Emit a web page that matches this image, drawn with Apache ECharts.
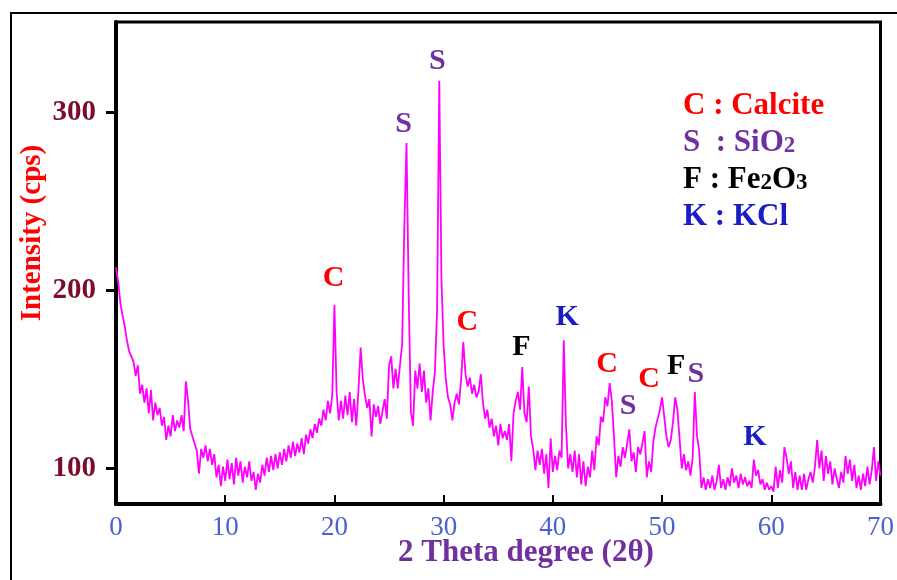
<!DOCTYPE html>
<html><head><meta charset="utf-8">
<script src="https://cdn.jsdelivr.net/npm/echarts@6/dist/echarts.min.js"></script>
<style>html,body{margin:0;padding:0;background:#fff}#c{width:897px;height:580px}</style>
</head><body><div id="c"></div>
<script>
// XRD scan: 2θ from 0 to 70 in 0.2° steps
const scanStart = 0;
const scanStep = 0.2;
const intensity = [
  213,205,193,186,180,172,166,163,160,152,
  158,142,147,137,145,131,144,127,137,130,
  134,124,129,116,124,118,130,121,127,123,
  130,121,149,138,122,118,114,110,97,111,
  106,113,104,111,102,108,95,102,90,101,
  93,105,94,103,91,106,96,104,92,101,
  95,104,93,98,88,97,92,102,96,106,
  98,107,99,108,100,109,102,111,104,113,
  106,115,107,114,109,117,108,119,114,122,
  117,125,120,128,124,133,127,138,131,141,
  192,143,127,138,128,141,130,143,126,139,
  124,144,168,150,141,134,139,118,136,129,
  135,125,132,139,128,158,163,145,156,145,
  158,170,236,283,197,132,124,155,145,159,
  143,155,137,145,127,143,154,189,318,206,
  169,150,140,136,127,137,142,136,150,171,
  153,146,151,142,147,140,143,153,137,128,
  133,123,128,118,124,113,125,117,121,116,
  125,104,131,138,143,133,157,131,126,146,
  118,111,99,110,102,111,97,108,89,117,
  98,107,99,110,106,172,124,100,108,98,
  110,95,108,91,104,90,101,95,110,99,
  118,113,129,126,140,135,148,138,118,95,
  107,101,112,106,114,122,104,109,98,112,
  108,114,121,95,104,98,115,123,128,133,
  140,129,118,112,116,126,140,133,117,100,
  108,99,104,96,106,143,118,110,89,95,
  88,94,89,96,88,93,102,89,94,88,
  95,90,100,92,96,89,97,91,95,90,
  93,89,105,96,99,91,94,88,92,88,
  90,87,101,89,99,92,112,106,97,104,
  89,98,88,96,88,97,88,94,98,92,
  101,116,100,110,93,107,97,104,91,100,
  94,89,98,92,107,97,105,93,102,89,
  96,88,97,90,101,91,99,112,93,104,
  96
];

const xMin = 0, xMax = 70, xInterval = 10;
const yMin = 80, yMax = 351;
const yTickValues = [100, 200, 300];

// peak annotations (phase letter, 2θ, intensity where the letter sits)
const peakPhase = ['C','S','S','C','F','K','C','S','C','F','S','K'];
const peakTheta = [19.93,26.33,29.43,32.18,37.11,41.32,44.97,46.89,48.81,51.28,53.1,58.5];
const peakLabelY = [206.7,293.3,328.7,182,168,184.8,158.4,134.8,150,157.3,152.8,117.4];

const phaseColors = { C:'#ff0000', S:'#7030a0', F:'#000000', K:'#1c1cc4' };

// phase legend
const legendKeys = ['C','S','F','K'];
const legendNames = [['C : Calcite'], ['S  : SiO','2',''], ['F : Fe','2','O','3'], ['K : KCl']];

const linePts = intensity.map((v, i) => [+(scanStart + i * scanStep).toFixed(2), v]);
const peakPts = peakPhase.map((p, i) => ({
  value: [peakTheta[i], peakLabelY[i]], name: p,
  label: { color: phaseColors[p] }
}));

const serif = 'Liberation Serif';
function legendText(parts) {
  let s = '';
  parts.forEach((t, i) => { if (t) s += (i % 2 === 0 ? '{m|' : '{s|') + t + '}'; });
  return s;
}
const legendGraphics = legendKeys.map((k, i) => ({
  type: 'text', x: 683, y: 104 + i * 37,
  style: {
    text: legendText(legendNames[i]),
    align: 'left', verticalAlign: 'middle',
    rich: {
      m: { fontFamily: serif, fontWeight: 'bold', fontSize: 31, fill: phaseColors[k], color: phaseColors[k], verticalAlign: 'bottom', lineHeight: 34 },
      s: { fontFamily: serif, fontWeight: 'bold', fontSize: 23, fill: phaseColors[k], color: phaseColors[k], verticalAlign: 'bottom', lineHeight: 32 }
    }
  }
}));

const chart = echarts.init(document.getElementById('c'), null, { renderer: 'canvas' });
chart.setOption({
  animation: false,
  backgroundColor: '#fff',
  grid: { left: 116, right: 14, top: 22, bottom: 76, show: true, borderColor: '#000', borderWidth: 3 },
  xAxis: {
    type: 'value', min: xMin, max: xMax, interval: xInterval,
    axisLine: { lineStyle: { color: '#000', width: 4 } },
    axisTick: { inside: true, length: 9, lineStyle: { color: '#000', width: 2 } },
    axisLabel: { color: '#4a62d0', fontFamily: serif, fontSize: 27, margin: 10 },
    splitLine: { show: false }
  },
  yAxis: {
    type: 'value', min: yMin, max: yMax,
    axisLine: { show: true, lineStyle: { color: '#000', width: 4 } },
    axisTick: { show: true, length: 10, customValues: yTickValues, lineStyle: { color: '#000', width: 3 } },
    axisLabel: { customValues: yTickValues, color: '#7b0d2a', fontFamily: serif, fontWeight: 'bold', fontSize: 29, margin: 20 },
    splitLine: { show: false }
  },
  series: [
    {
      type: 'line', data: linePts, symbol: 'none', silent: true,
      lineStyle: { color: '#ff00ff', width: 1.8 }, z: 2
    },
    {
      type: 'scatter', data: peakPts, symbolSize: 0, silent: true, z: 3,
      itemStyle: { color: 'transparent', opacity: 1 },
      label: {
        show: true, position: 'inside', formatter: p => p.name, opacity: 1,
        fontFamily: serif, fontWeight: 'bold', fontSize: 30
      }
    }
  ],
  graphic: [
    { type: 'rect', shape: { x: 11, y: 13, width: 1000, height: 1000 }, style: { fill: 'none', stroke: '#000', lineWidth: 2 }, z: -1 },
    { type: 'text', x: 33, y: 233, rotation: Math.PI / 2,
      style: { text: 'Intensity (cps)', fill: '#ff0000', font: 'bold 29px "Liberation Serif"', align: 'center', verticalAlign: 'middle' } },
    { type: 'text', x: 526, y: 553,
      style: { text: '2 Theta degree (2θ)', fill: '#7030a0', font: 'bold 31px "Liberation Serif"', align: 'center', verticalAlign: 'middle' } }
  ].concat(legendGraphics)
});
</script>
</body></html>
